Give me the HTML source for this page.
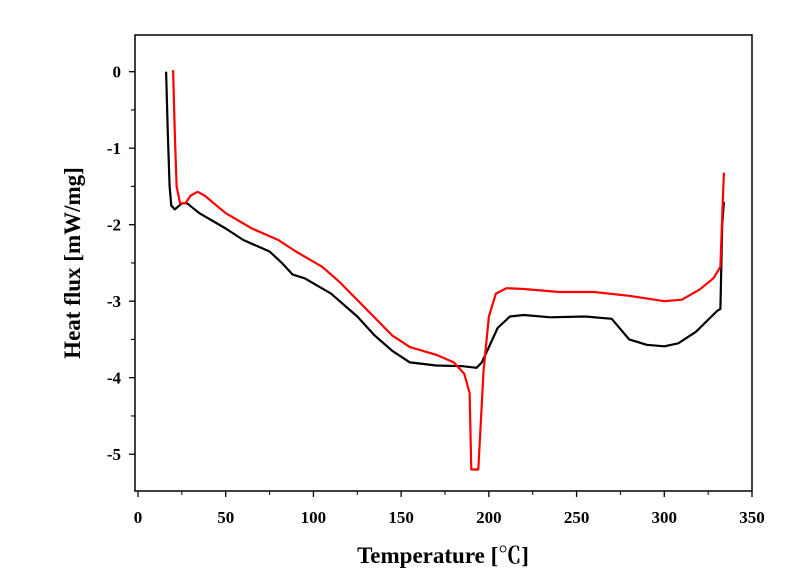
<!DOCTYPE html>
<html><head><meta charset="utf-8"><style>
body{margin:0;background:#fff;width:800px;height:572px;overflow:hidden}
svg text{font-family:"Liberation Serif","Noto Serif CJK SC",serif;font-weight:bold}
</style></head><body>
<svg id="chart" width="800" height="572" xmlns="http://www.w3.org/2000/svg"></svg>
<script>
const blackT=[16,17,18,19,21,25,28,35,50,60,75,82,88,95,110,125,135,145,155,170,185,193,196,200,205,212,220,235,255,270,280,290,300,308,318,330,332,333,334];
const blackV=[0,-0.8,-1.5,-1.75,-1.8,-1.72,-1.72,-1.85,-2.05,-2.2,-2.35,-2.5,-2.65,-2.7,-2.9,-3.2,-3.45,-3.65,-3.8,-3.84,-3.85,-3.87,-3.8,-3.6,-3.35,-3.2,-3.18,-3.21,-3.2,-3.23,-3.5,-3.57,-3.59,-3.55,-3.4,-3.13,-3.1,-2.0,-1.7];
const redT=[20,21,22,24,27,30,34,38,50,65,80,90,105,115,130,145,155,170,180,186,189,190,194,197,200,204,210,220,240,260,280,300,310,320,328,332,333,334];
const redV=[0.02,-0.8,-1.5,-1.72,-1.72,-1.62,-1.57,-1.62,-1.85,-2.05,-2.2,-2.35,-2.55,-2.75,-3.1,-3.45,-3.6,-3.7,-3.8,-3.95,-4.2,-5.2,-5.2,-3.9,-3.2,-2.9,-2.83,-2.84,-2.88,-2.88,-2.93,-3.0,-2.98,-2.85,-2.7,-2.55,-1.9,-1.32];
const xTicks=[0,50,100,150,200,250,300,350];
const yTicks=[0,-1,-2,-3,-4,-5];
const svg=document.getElementById('chart');
const NS='http://www.w3.org/2000/svg';
const L=135,R=752,T=35,B=491;
const X=v=>138+v*(752-138)/350;
const Y=v=>71.7+(-v)*76.5;
function mk(tag,attrs,parent){const e=document.createElementNS(NS,tag);for(const k in attrs)e.setAttribute(k,attrs[k]);(parent||svg).appendChild(e);return e;}
const frame=mk('rect',{x:L,y:T,width:R-L,height:B-T,fill:'none',stroke:'#000','stroke-width':1.5});


xTicks.forEach((t,i)=>{
  const x=X(t);
  const tk=mk('line',{x1:x,x2:x,y1:B,y2:B+6,stroke:'#000','stroke-width':1.3});
  
  
  if(i<xTicks.length-1){const m=mk('line',{x1:X(t+25),x2:X(t+25),y1:B,y2:B+4,stroke:'#000','stroke-width':1});
  
  }
  const lb=mk('text',{x:x,y:B+32,'text-anchor':'middle','font-size':17});lb.textContent=t;
  
  
});
yTicks.forEach((t,i)=>{
  const y=Y(t);
  const tk=mk('line',{x1:L-6,x2:L,y1:y,y2:y,stroke:'#000','stroke-width':1.3});
  
  
  [t+0.5,t-0.5].forEach(m=>{if(Y(m)>T&&Y(m)<B){const mm=mk('line',{x1:L-4,x2:L,y1:Y(m),y2:Y(m),stroke:'#000','stroke-width':1});
  
  }});
  const lb=mk('text',{x:L-14,y:y+6,'text-anchor':'end','font-size':17});lb.textContent=t;
  
  
});
function line(ts,vs,color,name){
  const d=ts.map((t,i)=>(i?'L':'M')+X(t).toFixed(1)+','+Y(vs[i]).toFixed(1)).join('');
  const p=mk('path',{d:d,fill:'none',stroke:color,'stroke-width':2.2,'stroke-linejoin':'round'});
  
  
}
line(blackT,blackV,'#000','black-series-line');
line(redT,redV,'#f00','red-series-line');
const xt=mk('text',{x:443,y:563,'text-anchor':'middle','font-size':23});xt.textContent='Temperature [℃]';


const yt=mk('text',{x:80,y:263,'text-anchor':'middle','font-size':23,transform:'rotate(-90 80 263)'});yt.textContent='Heat flux [mW/mg]';


</script>
</body></html>
